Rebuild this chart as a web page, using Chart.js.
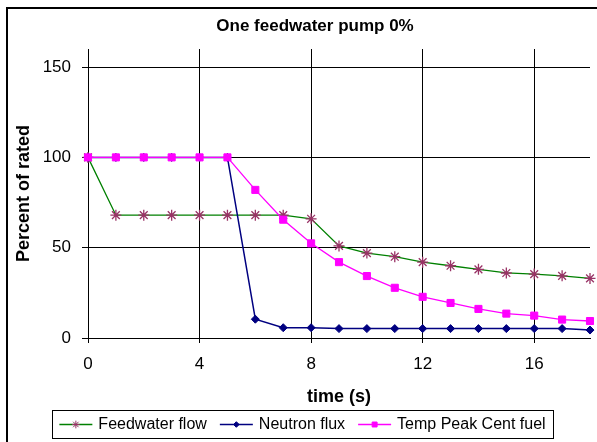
<!DOCTYPE html>
<html lang="en">
<head>
    <meta charset="UTF-8">
    <title>One feedwater pump 0%</title>
    <script src="https://cdn.jsdelivr.net/npm/chart.js"></script>
    <style>
        body { margin: 0; background: #fff; }
    </style>
</head>
<body>
    <canvas id="pumpChart" width="597" height="442"></canvas>
    <script>
        // values
        const times = [0, 1, 2, 3, 4, 5, 6, 7, 8, 9, 10, 11, 12, 13, 14, 15, 16, 17, 18];
        const feedwaterFlow = [100, 68, 68, 68, 68, 68, 68, 68, 66, 51, 47, 45, 42, 40, 38, 36, 35.4, 34.4, 33];
        const neutronFlux = [100, 100, 100, 100, 100, 100, 10.4, 5.7, 5.7, 5.2, 5.2, 5.2, 5.2, 5.2, 5.2, 5.2, 5.2, 5.2, 4.4];
        const tempPeakCentFuel = [100, 100, 100, 100, 100, 100, 82, 65.5, 52.4, 42, 34.3, 27.8, 22.8, 19.4, 16.1, 13.5, 12.4, 10.2, 9.4];
        const xTicks = [0, 4, 8, 12, 16];
        const yTicks = [0, 50, 100, 150];

        const toPoints = arr => arr.map((v, i) => ({ x: times[i], y: v }));

        // order: lower = drawn on top, so the temperature series sits over the others
        const datasets = [
            {
                label: 'Feedwater flow',
                data: toPoints(feedwaterFlow),
                order: 3,
                borderColor: '#008000',
                borderWidth: 1.3,
                pointStyle: 'star',
                pointRadius: 5.5,
                pointBorderColor: '#993366',
                pointBackgroundColor: '#993366',
                pointBorderWidth: 1.3
            },
            {
                label: 'Neutron flux',
                data: toPoints(neutronFlux),
                order: 2,
                borderColor: '#000080',
                borderWidth: 1.5,
                pointStyle: 'rectRot',
                pointRadius: 4,
                pointBorderColor: '#000080',
                pointBackgroundColor: '#000080',
                pointBorderWidth: 1
            },
            {
                label: 'Temp Peak Cent fuel',
                data: toPoints(tempPeakCentFuel),
                order: 1,
                borderColor: '#FF00FF',
                borderWidth: 1.3,
                pointStyle: 'rect',
                pointRadius: 5,
                pointBorderColor: '#FF00FF',
                pointBackgroundColor: '#FF00FF',
                pointBorderWidth: 1
            }
        ];

        // frame, title and Excel-like legend box
        const decorPlugin = {
            id: 'decor',
            beforeDraw(chart) {
                const c = chart.ctx;
                c.save();
                c.fillStyle = '#fff';
                c.fillRect(0, 0, chart.width, chart.height);
                c.restore();
            },
            afterDraw(chart) {
                const c = chart.ctx;
                c.save();
                c.strokeStyle = '#000';
                c.lineWidth = 2;
                c.beginPath();
                c.moveTo(7, chart.height + 2);
                c.lineTo(7, 8);
                c.lineTo(chart.width + 2, 8);
                c.stroke();

                c.fillStyle = '#000';
                c.font = 'bold 17px "Liberation Sans", Arial, sans-serif';
                c.textAlign = 'center';
                c.textBaseline = 'middle';
                c.fillText('One feedwater pump 0%', 315, 26);

                // legend
                const boxL = 52, boxR = 553, boxT = 410, boxB = 438;
                c.lineWidth = 1;
                c.strokeRect(boxL + 0.5, boxT + 0.5, boxR - boxL, boxB - boxT);
                c.font = '16px "Liberation Sans", Arial, sans-serif';
                c.textAlign = 'left';
                const lineLen = 33, gapText = 6, gapItem = 13;
                const widths = datasets.map(d => c.measureText(d.label).width);
                let total = 0;
                widths.forEach(w => { total += lineLen + gapText + w; });
                total += gapItem * (datasets.length - 1);
                let x = (boxL + boxR) / 2 - total / 2;
                const y = (boxT + boxB) / 2 + 0.5;
                datasets.forEach((d, i) => {
                    c.strokeStyle = d.borderColor;
                    c.lineWidth = d.borderWidth;
                    c.beginPath();
                    c.moveTo(x, y);
                    c.lineTo(x + lineLen, y);
                    c.stroke();
                    c.fillStyle = d.pointBackgroundColor;
                    c.strokeStyle = d.pointBorderColor;
                    c.lineWidth = 1;
                    Chart.helpers.drawPoint(c, { pointStyle: d.pointStyle, radius: d.pointRadius * 0.7, rotation: 0, borderWidth: 1 }, x + lineLen / 2, y);
                    c.fillStyle = '#000';
                    c.fillText(d.label, x + lineLen + gapText, y);
                    x += lineLen + gapText + widths[i] + gapItem;
                });
                c.restore();
            }
        };

        const ctx = document.getElementById('pumpChart').getContext('2d');
        const pumpChart = new Chart(ctx, {
            type: 'line',
            data: { datasets: datasets },
            plugins: [decorPlugin],
            options: {
                responsive: false,
                animation: false,
                devicePixelRatio: 1,
                layout: { padding: { top: 49, right: 7, left: 0, bottom: 0 } },
                plugins: {
                    legend: { display: false },
                    title: { display: false },
                    tooltip: { enabled: false }
                },
                elements: { line: { tension: 0 } },
                datasets: { line: { clip: false } },
                scales: {
                    x: {
                        type: 'linear',
                        min: 0,
                        max: 18,
                        afterFit: scale => { scale.height = 104; },
                        afterBuildTicks: scale => { scale.ticks = xTicks.map(v => ({ value: v })); },
                        border: { color: '#000', width: 1 },
                        grid: { color: '#000', lineWidth: 1, tickLength: 5, drawOnChartArea: true },
                        ticks: {
                            color: '#000',
                            padding: 11,
                            maxRotation: 0,
                            font: { family: '"Liberation Sans", Arial, sans-serif', size: 17 }
                        },
                        title: {
                            display: true,
                            text: 'time (s)',
                            color: '#000',
                            padding: { top: 0, bottom: 34 },
                            font: { family: '"Liberation Sans", Arial, sans-serif', size: 18, weight: 'bold' }
                        }
                    },
                    y: {
                        type: 'linear',
                        min: 0,
                        max: 160,
                        afterFit: scale => { scale.width = 88; },
                        afterBuildTicks: scale => { scale.ticks = yTicks.map(v => ({ value: v })); },
                        border: { color: '#000', width: 1 },
                        grid: { color: '#000', lineWidth: 1, tickLength: 6 },
                        ticks: {
                            color: '#000',
                            padding: 11,
                            font: { family: '"Liberation Sans", Arial, sans-serif', size: 17 }
                        },
                        title: {
                            display: true,
                            text: 'Percent of rated',
                            color: '#000',
                            padding: { top: 13, bottom: 0 },
                            font: { family: '"Liberation Sans", Arial, sans-serif', size: 18, weight: 'bold' }
                        }
                    }
                }
            }
        });
    </script>
</body>
</html>
